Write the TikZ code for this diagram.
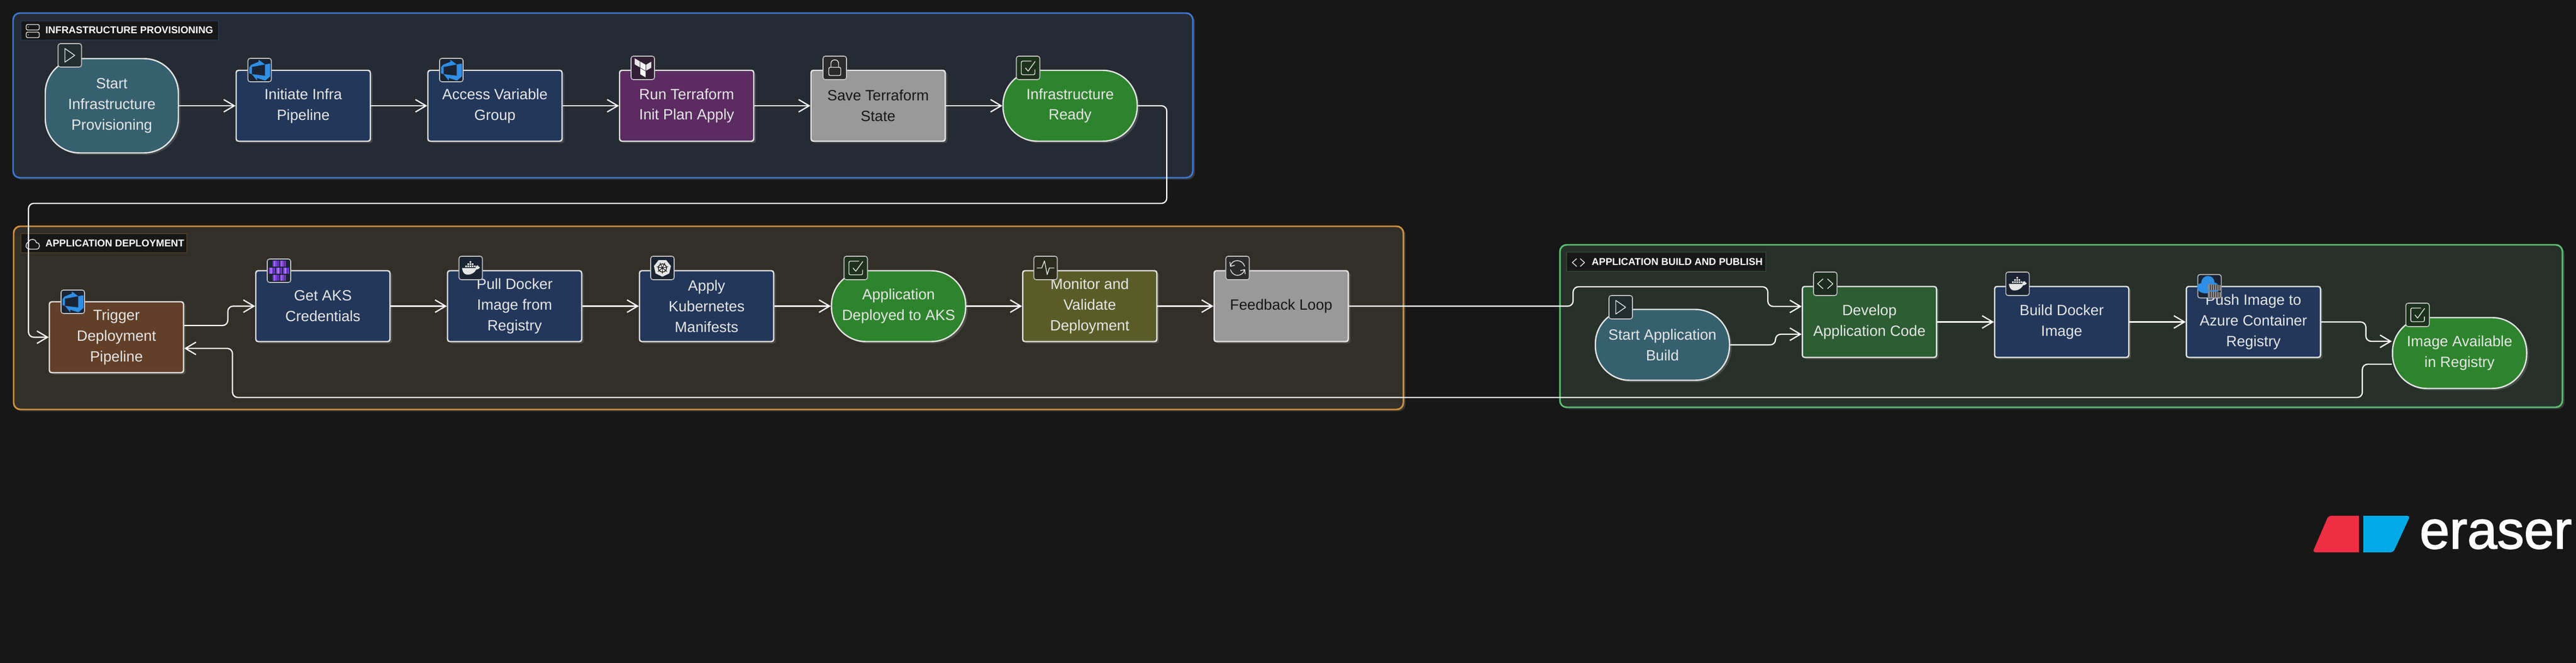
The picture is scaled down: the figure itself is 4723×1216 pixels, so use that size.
\documentclass[tikz,border=0pt]{standalone}
\usepackage{fontspec}
\usepackage{tikz}
\usetikzlibrary{arrows.meta,shadows}
\setmainfont{Liberation Sans}
\newfontfamily\logofont[FakeBold=1.8]{Liberation Sans}
\newcommand{\px}{0.02cm}

\definecolor{canvasBg}{HTML}{171717}
\definecolor{infraFill}{HTML}{262B33}
\definecolor{infraLine}{HTML}{3B78D4}
\definecolor{deployFill}{HTML}{322F29}
\definecolor{deployLine}{HTML}{D0913A}
\definecolor{buildFill}{HTML}{28302A}
\definecolor{buildLine}{HTML}{5BBF72}
\definecolor{tealBox}{HTML}{37606F}
\definecolor{navyBox}{HTML}{22375A}
\definecolor{plumBox}{HTML}{5B2B61}
\definecolor{greyBox}{HTML}{999999}
\definecolor{greenBox}{HTML}{2E842D}
\definecolor{brownBox}{HTML}{613F28}
\definecolor{oliveBox}{HTML}{5A5C28}
\definecolor{forestBox}{HTML}{2C5D33}
\definecolor{nodeLine}{HTML}{E6E6E6}
\definecolor{inkDark}{HTML}{171717}
\definecolor{azureBlue}{HTML}{2F8EE5}
\definecolor{aksPurple}{HTML}{7B3FE4}
\definecolor{crateGrey}{HTML}{8A8A8A}

\tikzset{
    softshadow/.style={drop shadow={shadow xshift=2.2pt,shadow yshift=-1.9pt,opacity=.14,fill=white}},
    groupbox/.style={draw,line width=1.7pt,rounded corners=7pt,softshadow},
    labelbox/.style={fill=canvasBg,draw,line width=.4pt,minimum height=35*\px,inner sep=0pt},
    labeltext/.style={anchor=west,inner sep=0pt,text=white,font=\fontsize{10.4}{12}\bfseries\selectfont},
    flowbox/.style={draw=nodeLine,line width=1.4pt,rounded corners=2.4pt,minimum width=246*\px,minimum height=130*\px,
        inner sep=0pt,align=center,text=nodeLine,font=\fontsize{15.5}{21.6}\selectfont,softshadow},
    termbox/.style={flowbox,rounded corners=36pt},
    iconbox/.style={draw=nodeLine!85!black,line width=.9pt,rounded corners=2.4pt,minimum width=43*\px,minimum height=43*\px,inner sep=0pt},
    flowline/.style={draw=white,line width=1.3pt,rounded corners=5.5pt,-{Straight Barb[length=11pt,width=13pt]}},
    glyph/.style={draw=nodeLine,line width=.8pt,line join=round},
    pics/playGlyph/.style={code={\draw[glyph] (-9,-12.5) -- (9,0) -- (-9,12.5) -- cycle;}},
    pics/checkGlyph/.style={code={
        \draw[glyph,rounded corners=1.5pt] (6,-12.5) -- (-12.5,-12.5) -- (-12.5,12.5) -- (12.5,12.5) -- (12.5,3);
        \draw[glyph] (-5,0) -- (0,6) -- (13,-12);}},
    pics/lockGlyph/.style={code={
        \draw[glyph,rounded corners=1.5pt] (-11,-1) rectangle (11,14);
        \draw[glyph] (-7,-1) -- (-7,-8) .. controls (-7,-17) and (7,-17) .. (7,-8) -- (7,-1);}},
    pics/codeGlyph/.style={code={
        \draw[glyph] (-4,-9) -- (-14,0) -- (-4,9);
        \draw[glyph] (4,-9) -- (14,0) -- (4,9);}},
    pics/pulseGlyph/.style={code={\draw[glyph] (-16,0) -- (-7,0) -- (-2,-13) -- (3,12) -- (7,0) -- (16,0);}},
    pics/refreshGlyph/.style={code={
        \draw[glyph] (-13,-3) .. controls (-11,-17) and (9,-17) .. (13,-3);
        \draw[glyph] (13,3) .. controls (9,17) and (-9,17) .. (-13,3);
        \draw[glyph] (-14,-11) -- (-13,-3) -- (-5,-5);
        \draw[glyph] (14,11) -- (13,3) -- (5,5);}},
    pics/serverGlyph/.style={code={
        \draw[glyph,rounded corners=1.5pt] (-12,-12) rectangle (12,-2);
        \draw[glyph,rounded corners=1.5pt] (-12,2) rectangle (12,12);
        \fill[nodeLine] (-8,-7.5) circle (.8);
        \fill[nodeLine] (-8,7) circle (.8);}},
    pics/cloudGlyph/.style={code={
        \draw[glyph] (-5,9) .. controls (-15,9) and (-15,-2) .. (-8,-4) .. controls (-6,-11) and (5,-11) .. (6,-3)
            .. controls (14,-3) and (14,9) .. (6,9) -- cycle;}},
    pics/devopsGlyph/.style={code={
        \begin{scope}[shift={(-19,-19)},scale=1.6]
        \fill[azureBlue] (0,8.877) -- (2.247,5.91) -- (10.652,2.494) -- (10.652,0.022) -- (18.022,5.415)
            -- (2.966,8.338) -- (2.966,16.563) -- (0,15.707) -- cycle;
        \fill[azureBlue] (24,4.427) -- (24,19.078) -- (18.247,23.978) -- (8.944,20.921) -- (8.944,23.977)
            -- (2.966,16.561) -- (18.023,18.359) -- (18.023,5.415) -- cycle;
        \end{scope}}},
    pics/terraformGlyph/.style={code={
        \begin{scope}[shift={(-17,-17.5)},scale=1.45]
        \fill[nodeLine] (1.44,0) -- (1.44,7.575) -- (8,11.365) -- (8,3.787) -- cycle;
        \fill[nodeLine] (22.56,4.227) -- (16,8.018) -- (16,15.592) -- (22.56,11.805) -- cycle;
        \fill[white] (8.72,4.23) -- (8.72,11.805) -- (15.28,15.592) -- (15.28,8.018) -- cycle;
        \fill[white] (8.72,12.635) -- (8.72,20.21) -- (15.28,24) -- (15.28,16.422) -- cycle;
        \end{scope}}},
    pics/dockerGlyph/.style={code={
        \fill[nodeLine] (-16,0) -- (9,0) .. controls (9,-4) and (12,-5) .. (13,-5) .. controls (14,-3) and (15,-2) .. (17,-1)
            .. controls (15,2) and (12,3) .. (10,3) .. controls (6,11) and (-3,13) .. (-8,12) .. controls (-13,11) and (-15,6) .. (-16,0) -- cycle;
        \foreach \col in {-10,-6,-2,2,6} {\fill[nodeLine] (\col,-4.5) rectangle ++(3.2,3.4);}
        \foreach \col in {-6,-2,2} {\fill[nodeLine] (\col,-8.7) rectangle ++(3.2,3.4);}
        \fill[nodeLine] (-2,-12.9) rectangle ++(3.2,3.4);}},
    pics/wheelGlyph/.style={code={
        \fill[nodeLine] (90:16) -- (141.4:16) -- (192.9:16) -- (244.3:16) -- (295.7:16) -- (347.1:16) -- (38.6:16) -- cycle;
        \draw[canvasBg,line width=.8pt] (0,0) circle (7.5);
        \fill[canvasBg] (0,0) circle (1.8);
        \foreach \ang in {90,141.4,192.9,244.3,295.7,347.1,38.6} {\draw[canvasBg,line width=.6pt] (0,0) -- (\ang:10.5);}}},
    pics/aksGlyph/.style={code={
        \foreach \col/\row in {-13/-13,0/-13,-19.5/0,-6.5/0,6.5/0,-13/13,0/13} {
            \fill[aksPurple] (\col+1,\row-5.5) rectangle (\col+12,\row+5.5);
            \fill[aksPurple!55!white] (\col+4,\row-5.5) rectangle (\col+5.5,\row+5.5);
            \fill[aksPurple!50!black] (\col+9,\row-5.5) rectangle (\col+10,\row+5.5);}}},
    pics/acrGlyph/.style={code={
        \fill[azureBlue] (-4,13) .. controls (-26,14) and (-27,-4) .. (-15,-6) .. controls (-15,-23) and (9,-23) .. (9,-7)
            .. controls (20,-5) and (21,12) .. (8,13) -- cycle;
        \foreach \row in {-4,9} {
            \fill[crateGrey] (-3,\row) -- (22,\row+2) -- (22,\row+12) -- (-3,\row+11) -- cycle;
            \foreach \col in {1,5,9,13,17} {\draw[canvasBg,line width=.3pt] (\col,\row+1) -- (\col,\row+11);}}}},
}

\begin{document}
\begin{tikzpicture}[x=\px,y=-\px]
        \useasboundingbox (0,0) rectangle (4723,1216);
        \fill[canvasBg] (0,0) rectangle (4723,1216);

        % groups
        \node[groupbox,draw=infraLine,fill=infraFill,minimum width=2163*\px,minimum height=302*\px] (groupInfra) at (1105.5,175) {};
        \node[groupbox,draw=deployLine,fill=deployFill,minimum width=2548*\px,minimum height=336*\px] (groupDeploy) at (1299,583) {};
        \node[groupbox,draw=buildLine,fill=buildFill,minimum width=1838*\px,minimum height=298*\px] (groupBuild) at (3779,598) {};

        % group labels
        \node[labelbox,draw=infraLine!40!canvasBg,minimum width=362*\px] (boxInfra) at (219,55.5) {};
        \node[labeltext] (textInfra) at (83,55.5) {INFRASTRUCTURE PROVISIONING};
        \node[labelbox,draw=deployLine!40!canvasBg,minimum width=304*\px] (boxDeploy) at (190,446) {};
        \node[labeltext] (textDeploy) at (83,446) {APPLICATION DEPLOYMENT};
        \node[labelbox,draw=buildLine!40!canvasBg,minimum width=365*\px] (boxBuild) at (3054.5,480) {};
        \node[labeltext] (textBuild) at (2918,480) {APPLICATION BUILD AND PUBLISH};
        \pic at (60,57) {serverGlyph};
        \pic at (60.5,448) {cloudGlyph};
        \pic[scale=.8] at (2894,481.5) {codeGlyph};

        % infrastructure row
        \node[termbox,fill=tealBox,minimum width=244*\px,minimum height=173*\px] (startInfra) at (205,194) {Start\\Infrastructure\\Provisioning};
        \node[flowbox,fill=navyBox] (initInfra) at (556,194) {Initiate Infra\\Pipeline};
        \node[flowbox,fill=navyBox] (accessVar) at (907.5,194) {Access Variable\\Group};
        \node[flowbox,fill=plumBox] (runTf) at (1259,194) {Run Terraform\\Init Plan Apply};
        \node[flowbox,fill=greyBox,text=inkDark] (saveState) at (1610,194) {Save Terraform\\State};
        \node[termbox,fill=greenBox] (infraReady) at (1962,194) {Infrastructure\\Ready};

        % deployment row
        \node[flowbox,fill=brownBox] (trigger) at (213.5,618.5) {Trigger\\Deployment\\Pipeline};
        \node[flowbox,fill=navyBox] (getAks) at (592,561.5) {Get AKS\\Credentials};
        \node[flowbox,fill=navyBox] (pullImg) at (943.5,561.5) {Pull Docker\\Image from\\Registry};
        \node[flowbox,fill=navyBox] (applyK8s) at (1295.5,561.5) {Apply\\Kubernetes\\Manifests};
        \node[termbox,fill=greenBox] (appDeployed) at (1647.5,561.5) {Application\\Deployed to AKS};
        \node[flowbox,fill=oliveBox] (monitor) at (1998,561.5) {Monitor and\\Validate\\Deployment};
        \node[flowbox,fill=greyBox,text=inkDark] (feedback) at (2349,561.5) {Feedback Loop};

        % build row
        \node[termbox,fill=tealBox] (startBuild) at (3048,632.5) {Start Application\\Build};
        \node[flowbox,fill=forestBox] (develop) at (3427.5,590.5) {Develop\\Application Code};
        \node[flowbox,fill=navyBox] (buildImg) at (3780,590.5) {Build Docker\\Image};
        \node[flowbox,fill=navyBox] (pushAcr) at (4131.5,590.5) {Push Image to\\Azure Container\\Registry};
        \node[termbox,fill=greenBox] (imageReady) at (4509.5,647.5) {Image Available\\in Registry};

        % connectors
        \foreach \from/\to in {startInfra/initInfra,initInfra/accessVar,accessVar/runTf,runTf/saveState,saveState/infraReady,
            getAks/pullImg,pullImg/applyK8s,applyK8s/appDeployed,appDeployed/monitor,monitor/feedback,
            develop/buildImg,buildImg/pushAcr}
            \draw[flowline] (\from) -- (\to);
        \draw[flowline] (infraReady.east) -- ++(53,0) -- ++(0,179) -- ++(-2087,0) |- (trigger.west);
        \draw[flowline] ([yshift=21.5*\px]trigger.east) -- ++(80,0) |- (getAks.west);
        \draw[flowline] (feedback.east) -- ++(411,0) -- ++(0,-35.5) -- ++(357,0) |- ([yshift=28.5*\px]develop.west);
        \draw[flowline] (startBuild.east) -- ++(83,0) |- ([yshift=-22.5*\px]develop.west);
        \draw[flowline] (pushAcr.east) -- ++(82,0) |- ([yshift=21.5*\px]imageReady.west);
        \draw[flowline] ([yshift=-20.5*\px]imageReady.west) -- ++(-54,0) -- ++(0,61) -- ++(-3905,0) |- ([yshift=-20.5*\px]trigger.east);

        % icon badges
        \node[iconbox,fill=tealBox!30!canvasBg,minimum height=43*\px] (iconStartInfra) at (128,101.5) {};
        \node[iconbox,fill=navyBox!40!canvasBg] (iconInit) at (476,128.5) {};
        \node[iconbox,fill=navyBox!40!canvasBg] (iconAccess) at (827.5,128.5) {};
        \node[iconbox,fill=plumBox!40!canvasBg] (iconRun) at (1178.5,124.5) {};
        \node[iconbox,fill=greyBox!15!canvasBg] (iconSave) at (1530.5,124.5) {};
        \node[iconbox,fill=greenBox!25!canvasBg] (iconReady) at (1885,124.5) {};
        \node[iconbox,fill=navyBox!40!canvasBg] (iconTrigger) at (133.5,553.5) {};
        \node[iconbox,fill=navyBox!40!canvasBg] (iconAks) at (511.5,496.5) {};
        \node[iconbox,fill=navyBox!40!canvasBg] (iconPull) at (863,491.5) {};
        \node[iconbox,fill=navyBox!40!canvasBg] (iconApply) at (1214.5,491.5) {};
        \node[iconbox,fill=greenBox!25!canvasBg] (iconDeployed) at (1569,491.5) {};
        \node[iconbox,fill=oliveBox!30!canvasBg] (iconMonitor) at (1917,491.5) {};
        \node[iconbox,fill=greyBox!15!canvasBg] (iconFeedback) at (2269,491.5) {};
        \node[iconbox,fill=tealBox!30!canvasBg] (iconStartBuild) at (2971.5,563.5) {};
        \node[iconbox,fill=forestBox!30!canvasBg] (iconDevelop) at (3346.5,520.5) {};
        \node[iconbox,fill=navyBox!40!canvasBg] (iconBuild) at (3699,520.5) {};
        \node[iconbox,fill=navyBox!40!canvasBg] (iconPush) at (4051,525) {};
        \node[iconbox,fill=greenBox!25!canvasBg] (iconImage) at (4432.5,577.5) {};

        \pic at (iconStartInfra) {playGlyph};
        \pic at (iconInit) {devopsGlyph};
        \pic at (iconAccess) {devopsGlyph};
        \pic at (iconRun) {terraformGlyph};
        \pic at (iconSave) {lockGlyph};
        \pic at (iconReady) {checkGlyph};
        \pic at (iconTrigger) {devopsGlyph};
        \pic at (iconAks) {aksGlyph};
        \pic at (iconPull) {dockerGlyph};
        \pic at (iconApply) {wheelGlyph};
        \pic at (iconDeployed) {checkGlyph};
        \pic at (iconMonitor) {pulseGlyph};
        \pic at (iconFeedback) {refreshGlyph};
        \pic at (iconStartBuild) {playGlyph};
        \pic at (iconDevelop) {codeGlyph};
        \pic at (iconBuild) {dockerGlyph};
        \pic at (iconPush) {acrGlyph};
        \pic at (iconImage) {checkGlyph};

        % logo
        \fill[fill={rgb,255:red,238;green,46;blue,67}] (4325,946) -- (4325,1013) [rounded corners=3pt] -- (4240,1013) -- (4269,946) [sharp corners] -- cycle;
        \fill[fill={rgb,255:red,0;green,169;blue,232}] (4333,946) [rounded corners=3pt] -- (4419,946) -- (4388,1013) [sharp corners] -- (4333,1013) -- cycle;
        \node[anchor=base west,inner sep=0pt,text=white,font=\fontsize{56}{60}\logofont] (logoText) at (4436,1006) {eraser};
    \end{tikzpicture}
\end{document}
